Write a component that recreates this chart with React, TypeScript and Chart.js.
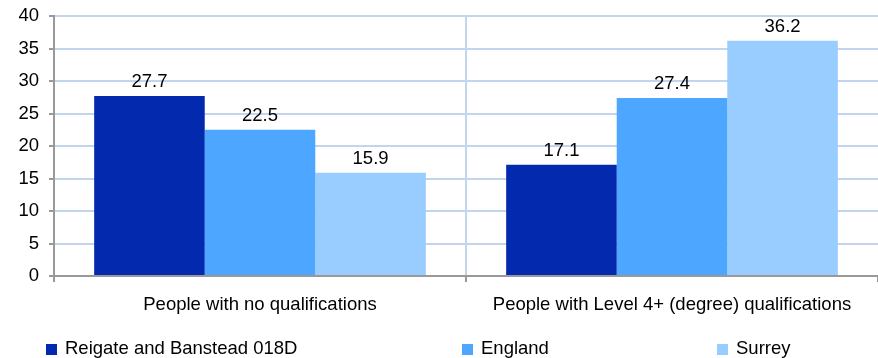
import React, { useEffect, useRef } from "react";
import { Chart, registerables } from "chart.js";

Chart.register(...registerables);

const categories = ["People with no qualifications", "People with Level 4+ (degree) qualifications"];
const seriesNames = ["Reigate and Banstead 018D", "England", "Surrey"];
const reigateValues = [27.7, 17.1];
const englandValues = [22.5, 27.4];
const surreyValues = [15.9, 36.2];
const seriesColors = ["#0229AE", "#4DA6FF", "#99CCFF"];
const yMin = 0;
const yMax = 40;
const yStep = 5;

const FONT = '"Liberation Sans", Arial, sans-serif';
const FS = 18.5;
const GRID = "#C3D5EC";
const AXIS = "#999999";

const legendXs = [46, 462, 717];

const dataLabelPlugin = {
  id: "dataLabels",
  afterDatasetsDraw(chart: any) {
    const ctx = chart.ctx;
    ctx.save();
    ctx.font = `${FS}px ${FONT}`;
    ctx.fillStyle = "#000";
    ctx.textAlign = "center";
    ctx.textBaseline = "alphabetic";
    chart.data.datasets.forEach((ds: any, i: number) => {
      const meta = chart.getDatasetMeta(i);
      meta.data.forEach((bar: any, j: number) => {
        ctx.fillText(ds.data[j].toFixed(1), bar.x, bar.y - 9);
      });
    });
    ctx.restore();
  },
};

const legendPlugin = {
  id: "customLegend",
  afterDraw(chart: any) {
    const ctx = chart.ctx;
    ctx.save();
    ctx.font = `${FS}px ${FONT}`;
    ctx.textAlign = "left";
    ctx.textBaseline = "alphabetic";
    chart.data.datasets.forEach((ds: any, i: number) => {
      const x = legendXs[i];
      ctx.fillStyle = ds.backgroundColor;
      ctx.fillRect(x, 344, 11, 11);
      ctx.fillStyle = "#000";
      ctx.fillText(ds.label, x + 19, 354);
    });
    ctx.restore();
  },
};

export default function App() {
  const ref = useRef<HTMLCanvasElement>(null);
  useEffect(() => {
    if (!ref.current) return;
    const chart = new Chart(ref.current, {
      type: "bar",
      data: {
        labels: categories,
        datasets: [
          { label: seriesNames[0], data: reigateValues, backgroundColor: seriesColors[0] },
          { label: seriesNames[1], data: englandValues, backgroundColor: seriesColors[1] },
          { label: seriesNames[2], data: surreyValues, backgroundColor: seriesColors[2] },
        ],
      },
      options: {
        animation: false,
        responsive: false,
        maintainAspectRatio: false,
        layout: { padding: { top: 16, left: 0, right: 0, bottom: 0 } },
        datasets: { bar: { categoryPercentage: 0.805, barPercentage: 1.0 } },
        plugins: { legend: { display: false }, tooltip: { enabled: false } },
        scales: {
          x: {
            offset: true,
            afterFit: (s: any) => { s.height = 82; s.paddingLeft = 0; s.paddingRight = 0; },
            grid: {
              offset: true,
              lineWidth: 2,
              color: (c: any) => (c.index === 1 ? GRID : "rgba(0,0,0,0)"),
              tickColor: (c: any) => (c.index === 2 ? "rgba(0,0,0,0)" : AXIS),
              tickLength: 6,
              drawOnChartArea: true,
            },
            border: { color: AXIS, width: 2 },
            ticks: { font: { family: FONT, size: FS }, color: "#000", padding: 12, maxRotation: 0 },
          },
          y: {
            min: yMin,
            max: yMax,
            afterFit: (s: any) => { s.width = 54; s.paddingTop = 0; s.paddingBottom = 0; },
            grid: { color: GRID, lineWidth: 2, tickColor: AXIS, tickLength: 5 },
            border: { color: AXIS, width: 2 },
            ticks: { stepSize: yStep, font: { family: FONT, size: FS }, color: "#000", padding: 10 },
          },
        },
      },
      plugins: [dataLabelPlugin, legendPlugin],
    } as any);
    return () => chart.destroy();
  }, []);
  return (
    <div style={{ position: "absolute", left: 0, top: 0, width: 878, height: 358 }}>
      <canvas ref={ref} width={878} height={358} />
    </div>
  );
}
